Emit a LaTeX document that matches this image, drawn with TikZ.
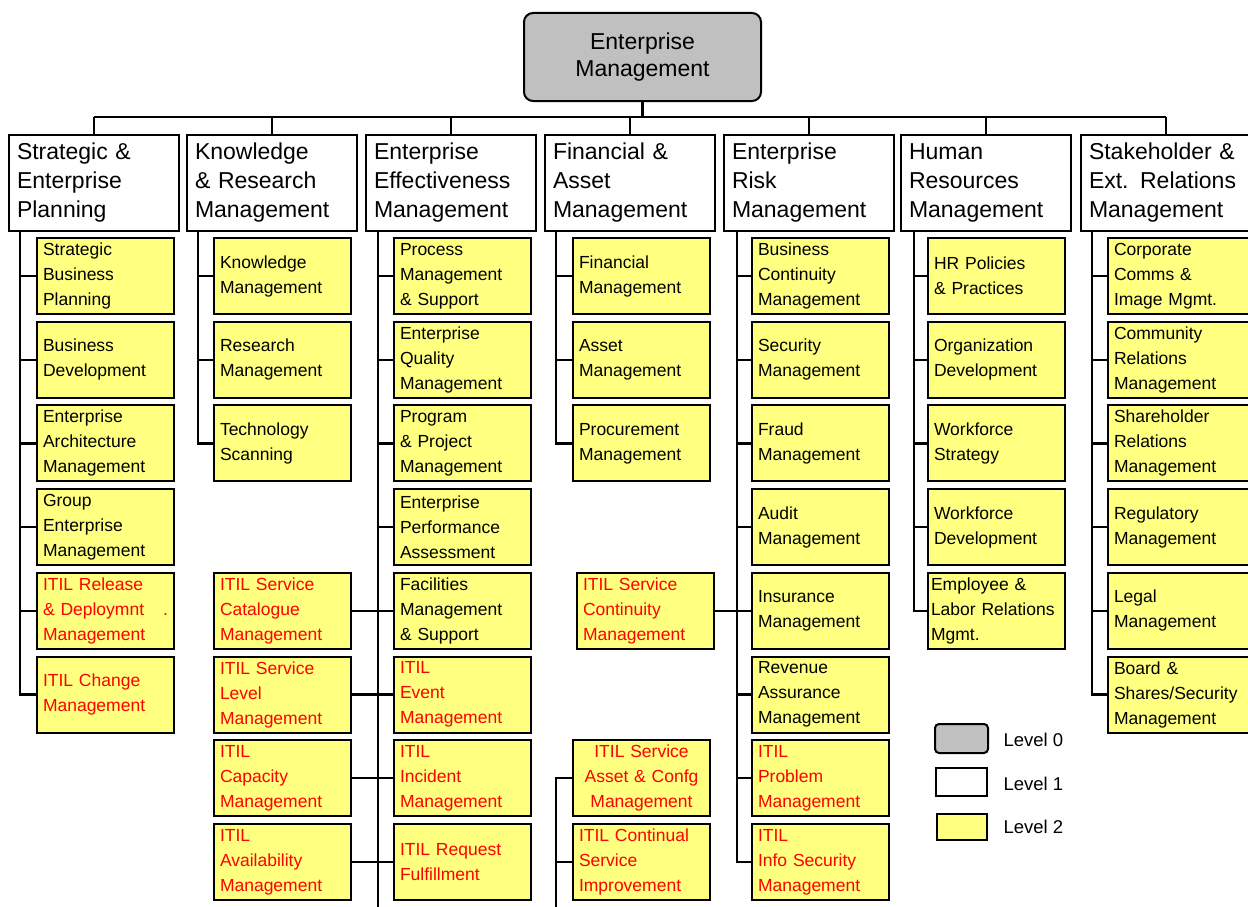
\documentclass[tikz,border=0pt]{standalone}
\usepackage{fontspec}
\setmainfont{Liberation Sans}

\definecolor{levelgray}{RGB}{192,192,192}
\definecolor{levelyellow}{RGB}{255,255,128}
\definecolor{itilred}{RGB}{255,0,0}

\tikzset{
	lvlzero/.style={draw, line width=2pt, rounded corners=9pt, fill=levelgray, minimum width=237pt, minimum height=88pt, align=center, font=\fontsize{23}{27}\selectfont},
	lvlone/.style={draw, line width=2pt, fill=white, anchor=north west, minimum height=96pt, text width=154pt, inner xsep=8pt, inner ysep=2pt, align=left, font=\fontsize{23}{29}\selectfont},
	lvltwo/.style={draw, line width=2pt, fill=levelyellow, anchor=north west, minimum height=76pt, text width=125pt, inner xsep=6pt, inner ysep=2pt, align=left, font=\fontsize{17.5}{25}\selectfont},
	itil/.style={lvltwo, text=itilred},
	link/.style={line width=2.4pt},
	keytext/.style={anchor=west, font=\fontsize{18.5}{20}\selectfont},
}

\begin{document}
\begin{tikzpicture}[x=1pt, y=-1pt]

\def\xa{36}
\def\xb{213}
\def\xc{393}
\def\xd{572}
\def\xe{751}
\def\xf{927}
\def\xg{1107}
\def\ya{237}
\def\yb{320.7}
\def\yc{404.4}
\def\yd{488.1}
\def\ye{571.8}
\def\yf{655.5}
\def\yg{739.2}
\def\yh{822.9}

\path [use as bounding box] (0,0) rectangle (1248,907);

% ROOT
\node[lvlzero] (root) at (642.5,57) {Enterprise\\Management};

% LEVEL 1
\node[lvlone] (l1) at (8,134) {Strategic \&\\Enterprise\\Planning};
\node[lvlone] (l2) at (186,134) {Knowledge\\\& Research\\Management};
\node[lvlone] (l3) at (365,134) {Enterprise\\Effectiveness\\Management};
\node[lvlone] (l4) at (544,134) {Financial \&\\Asset\\Management};
\node[lvlone] (l5) at (723,134) {Enterprise\\Risk\\Management};
\node[lvlone] (l6) at (900,134) {Human\\Resources\\Management};
\node[lvlone] (l7) at (1080,134) {Stakeholder \&\\Ext. Relations\\Management};

% LEVEL 2
\node[lvltwo] (a1) at (\xa,\ya) {Strategic\\Business\\Planning};
\node[lvltwo] (a2) at (\xa,\yb) {Business\\Development};
\node[lvltwo] (a3) at (\xa,\yc) {Enterprise\\Architecture\\Management};
\node[lvltwo] (a4) at (\xa,\yd) {Group\\Enterprise\\Management};
\node[itil] (a5) at (\xa,\ye) {ITIL Release\\\& Deploymnt\hfill.\\Management};
\node[itil] (a6) at (\xa,\yf) {ITIL Change\\Management};

\node[lvltwo] (b1) at (\xb,\ya) {Knowledge\\Management};
\node[lvltwo] (b2) at (\xb,\yb) {Research\\Management};
\node[lvltwo] (b3) at (\xb,\yc) {Technology\\Scanning};
\node[itil] (b5) at (\xb,\ye) {ITIL Service\\Catalogue\\Management};
\node[itil] (b6) at (\xb,\yf) {ITIL Service\\Level\\Management};
\node[itil] (b7) at (\xb,\yg) {ITIL\\Capacity\\Management};
\node[itil] (b8) at (\xb,\yh) {ITIL\\Availability\\Management};

\node[lvltwo] (c1) at (\xc,\ya) {Process\\Management\\\& Support};
\node[lvltwo] (c2) at (\xc,\yb) {Enterprise\\Quality\\Management};
\node[lvltwo] (c3) at (\xc,\yc) {Program\\\& Project\\Management};
\node[lvltwo] (c4) at (\xc,\yd) {Enterprise\\Performance\\Assessment};
\node[lvltwo] (c5) at (\xc,\ye) {Facilities\\Management\\\& Support};
\node[itil] (c6) at (\xc,\yf) {ITIL\\Event\\Management};
\node[itil] (c7) at (\xc,\yg) {ITIL\\Incident\\Management};
\node[itil] (c8) at (\xc,\yh) {ITIL Request\\Fulfillment};

\node[lvltwo] (d1) at (\xd,\ya) {Financial\\Management};
\node[lvltwo] (d2) at (\xd,\yb) {Asset\\Management};
\node[lvltwo] (d3) at (\xd,\yc) {Procurement\\Management};
\node[itil] (d5) at (576,\ye) {ITIL Service\\Continuity\\Management};
\node[itil, align=center] (d7) at (\xd,\yg) {ITIL Service\\Asset \& Confg\\Management};
\node[itil] (d8) at (\xd,\yh) {ITIL Continual\\Service\\Improvement};

\node[lvltwo] (e1) at (\xe,\ya) {Business\\Continuity\\Management};
\node[lvltwo] (e2) at (\xe,\yb) {Security\\Management};
\node[lvltwo] (e3) at (\xe,\yc) {Fraud\\Management};
\node[lvltwo] (e4) at (\xe,\yd) {Audit\\Management};
\node[lvltwo] (e5) at (\xe,\ye) {Insurance\\Management};
\node[lvltwo] (e6) at (\xe,\yf) {Revenue\\Assurance\\Management};
\node[itil] (e7) at (\xe,\yg) {ITIL\\Problem\\Management};
\node[itil] (e8) at (\xe,\yh) {ITIL\\Info Security\\Management};

\node[lvltwo] (f1) at (\xf,\ya) {HR Policies\\\& Practices};
\node[lvltwo] (f2) at (\xf,\yb) {Organization\\Development};
\node[lvltwo] (f3) at (\xf,\yc) {Workforce\\Strategy};
\node[lvltwo] (f4) at (\xf,\yd) {Workforce\\Development};
\node[lvltwo, inner xsep=3pt, text width=131pt] (f5) at (\xf,\ye) {Employee \&\\Labor Relations\\Mgmt.};

\node[lvltwo, text width=135pt] (g1) at (\xg,\ya) {Corporate\\Comms \&\\Image Mgmt.};
\node[lvltwo, text width=135pt] (g2) at (\xg,\yb) {Community\\Relations\\Management};
\node[lvltwo, text width=135pt] (g3) at (\xg,\yc) {Shareholder\\Relations\\Management};
\node[lvltwo, text width=135pt] (g4) at (\xg,\yd) {Regulatory\\Management};
\node[lvltwo, text width=135pt] (g5) at (\xg,\ye) {Legal\\Management};
\node[lvltwo, text width=135pt] (g6) at (\xg,\yf) {Board \&\\Shares/Security\\Management};

% BUS
\coordinate (bus) at ([yshift=-15pt]root.south);
\draw[link] (root.south) -- (bus);
\draw[link] (l1.north |- bus) -- (l7.north |- bus);
\foreach \n in {l1,l2,l3,l4,l5,l6,l7}
	\draw[link] (\n.north) -- (\n.north |- bus);

% SPINES
\coordinate (spa) at ([xshift=12pt]l1.south west);
\coordinate (spb) at ([xshift=12pt]l2.south west);
\coordinate (spc) at ([xshift=13pt]l3.south west);
\coordinate (spd) at ([xshift=12pt]l4.south west);
\coordinate (spe) at ([xshift=14pt]l5.south west);
\coordinate (spf) at ([xshift=14pt]l6.south west);
\coordinate (spg) at ([xshift=12pt]l7.south west);
\coordinate (spcend) at (378,907);
\coordinate (spdend) at (556,907);

\draw[link] (spa) |- (a6.west);
\foreach \n in {a1,a2,a3,a4,a5}
	\draw[link] (\n.west) -- (\n.west -| spa);

\draw[link] (spb) |- (b3.west);
\foreach \n in {b1,b2}
	\draw[link] (\n.west) -- (\n.west -| spb);

\draw[link] (spc) -- (spcend);
\foreach \n in {c1,c2,c3,c4,c5,c6,c7,c8}
	\draw[link] (\n.west) -- (\n.west -| spc);
\foreach \n in {b5,b6,b7,b8}
	\draw[link] (\n.east) -- (\n.east -| spc);

\draw[link] (spd) |- (d3.west);
\foreach \n in {d1,d2}
	\draw[link] (\n.west) -- (\n.west -| spd);
\draw[link] (d7.west) -| (spdend);
\draw[link] (d8.west) -- (d8.west -| spdend);

\draw[link] (spe) |- (e8.west);
\foreach \n in {e1,e2,e3,e4,e5,e6,e7}
	\draw[link] (\n.west) -- (\n.west -| spe);
\draw[link] (d5.east) -- (d5.east -| spe);

\draw[link] (spf) |- (f5.west);
\foreach \n in {f1,f2,f3,f4}
	\draw[link] (\n.west) -- (\n.west -| spf);

\draw[link] (spg) |- (g6.west);
\foreach \n in {g1,g2,g3,g4,g5}
	\draw[link] (\n.west) -- (\n.west -| spg);

% KEY
\node[draw, line width=2pt, rounded corners=4pt, fill=levelgray, anchor=north west, minimum width=53pt, minimum height=29pt] (k0) at (934,723) {};
\node[draw, line width=2pt, fill=white, anchor=north west, minimum width=51pt, minimum height=28pt] (k1) at (935,767) {};
\node[draw, line width=2pt, fill=levelyellow, anchor=north west, minimum width=50pt, minimum height=26pt] (k2) at (936,813) {};
\node[keytext] (k0t) at (1000,740) {Level 0};
\node[keytext] (k1t) at (1000,784) {Level 1};
\node[keytext] (k2t) at (1000,827) {Level 2};

\end{tikzpicture}
\end{document}
